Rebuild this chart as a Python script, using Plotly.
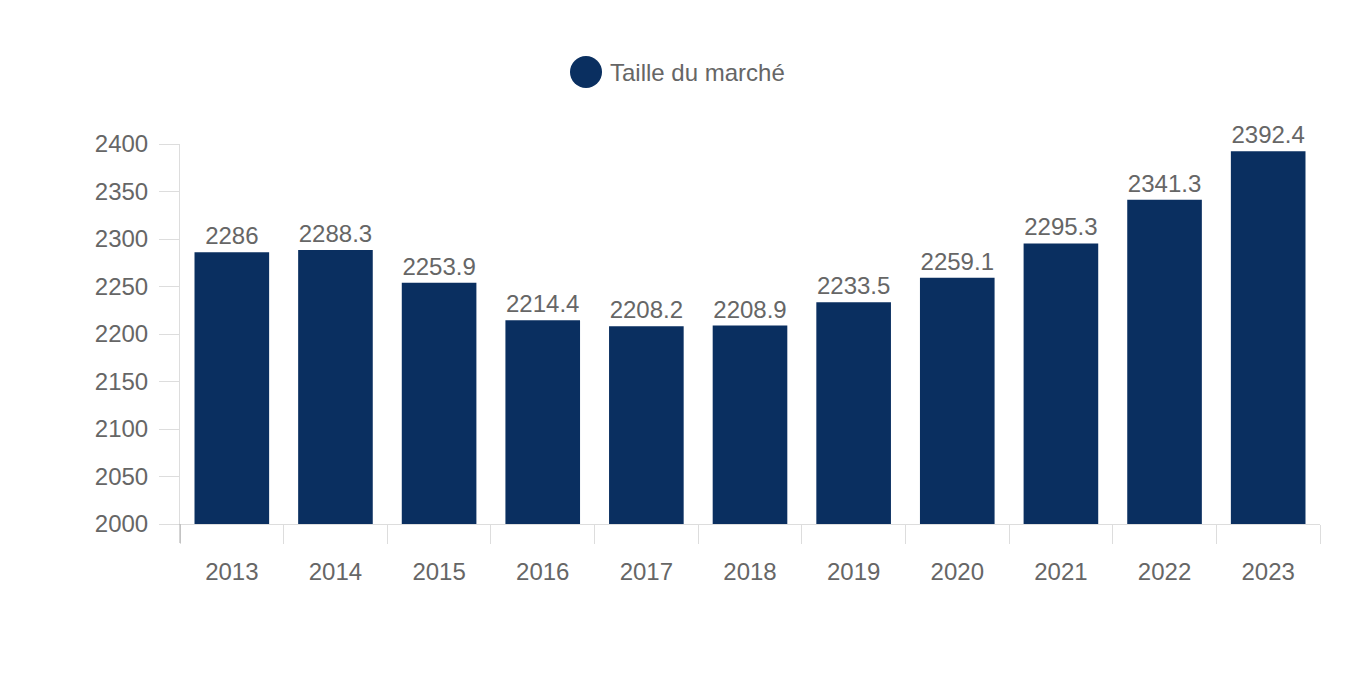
import plotly.graph_objects as go

years = ["2013", "2014", "2015", "2016", "2017", "2018", "2019", "2020", "2021", "2022", "2023"]
values = [2286, 2288.3, 2253.9, 2214.4, 2208.2, 2208.9, 2233.5, 2259.1, 2295.3, 2341.3, 2392.4]
labels = ["2286", "2288.3", "2253.9", "2214.4", "2208.2", "2208.9", "2233.5", "2259.1", "2295.3", "2341.3", "2392.4"]
series_name = "Taille du marché"
y_ticks = [2000, 2050, 2100, 2150, 2200, 2250, 2300, 2350, 2400]

BAR = "#0a2f60"
TXT = "#666666"
LINE = "#dddddd"
FONT = "Liberation Sans, Arial, Helvetica, sans-serif"
FS = 24

# page offset (body margin) of 8px
OFF = 8
W, H = 1360, 680
L, R, T, B = 180 - OFF, 48, 144 - OFF, 680 - (524 - OFF)
pw, ph = W - L - R, H - T - B

fig = go.Figure()
fig.add_trace(go.Bar(
    x=years, y=values, name=series_name,
    marker=dict(color=BAR, line=dict(width=0)),
    text=labels, textposition="outside", cliponaxis=False,
    textfont=dict(size=FS, color=TXT, family=FONT),
    showlegend=False,
))

def px_x(p):
    return (p - OFF - L) / pw

def px_y(p):
    return (H - B - (p - OFF)) / ph

fig.update_layout(
    width=W, height=H,
    margin=dict(l=L, r=R, t=T, b=B),
    paper_bgcolor="white", plot_bgcolor="white",
    bargap=0.28,
    font=dict(family=FONT, size=FS, color=TXT),
    showlegend=False,
    xaxis=dict(
        type="category",
        showgrid=False, zeroline=False,
        showline=True, linecolor=LINE, linewidth=1,
        ticks="outside", tickson="boundaries", ticklen=19, tickcolor=LINE, tickwidth=1,
        tickfont=dict(size=FS, color=TXT, family=FONT),
        ticklabelstandoff=26,
    ),
    yaxis=dict(
        range=[2000, 2400],
        tickvals=y_ticks,
        showgrid=False, zeroline=False,
        showline=True, linecolor=LINE, linewidth=1,
        ticks="outside", ticklen=20, tickcolor=LINE, tickwidth=1,
        tickfont=dict(size=FS, color=TXT, family=FONT),
        ticklabelstandoff=6,
    ),
    shapes=[
        dict(type="circle", xref="paper", yref="paper",
             xsizemode="pixel", ysizemode="pixel",
             xanchor=px_x(586), yanchor=px_y(72),
             x0=-16, x1=16, y0=-16, y1=16,
             fillcolor=BAR, line=dict(width=0)),
        dict(type="line", xref="paper", yref="paper",
             x0=0, x1=0, y0=0, y1=px_y(543),
             line=dict(color="#aaaaaa", width=1)),
    ],
    annotations=[
        dict(text=series_name, xref="paper", yref="paper",
             x=px_x(608), y=px_y(72), xanchor="left", yanchor="middle",
             showarrow=False, font=dict(size=FS, color=TXT, family=FONT)),
    ],
)

fig.write_html("out.html")
